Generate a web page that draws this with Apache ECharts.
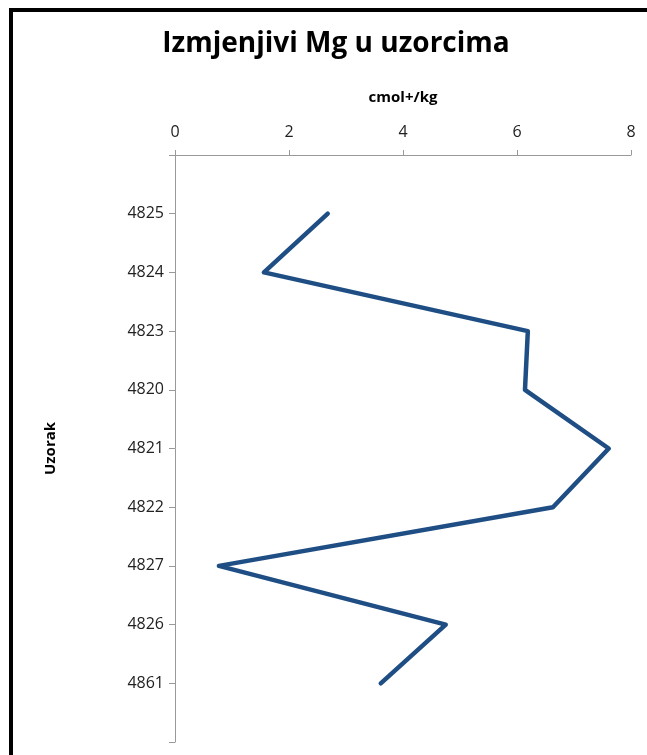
<!DOCTYPE html>
<html>
<head>
<meta charset="utf-8">
<script src="https://cdn.jsdelivr.net/npm/echarts@6/dist/echarts.min.js"></script>
<style>
html,body{margin:0;padding:0;background:#fff;overflow:hidden;}
#chart{width:647px;height:755px;}
</style>
</head>
<body>
<div id="chart"></div>
<script>
var titleText = 'Izmjenjivi Mg u uzorcima';
var xAxisName = 'cmol+/kg';
var yAxisName = 'Uzorak';
var samples = ['4825', '4824', '4823', '4820', '4821', '4822', '4827', '4826', '4861'];
var mgValues = [2.68, 1.56, 6.19, 6.14, 7.61, 6.63, 0.77, 4.75, 3.61];
var xTicks = [0, 2, 4, 6, 8];

// padded categories: empty slot at top and bottom of the axis
var cats = [''].concat(samples, ['']);
var seriesData = [null].concat(mgValues, [null]);

var chart = echarts.init(document.getElementById('chart'), null, {renderer: 'canvas'});
var font = 'Open Sans';
chart.setOption({
  animation: false,
  backgroundColor: '#fff',
  title: {
    text: titleText,
    left: 331, top: 25, textAlign: 'center',
    textStyle: {fontFamily: font, fontWeight: 'bold', fontSize: 28, color: '#000'}
  },
  graphic: [
    {type: 'rect', silent: true, shape: {x: 9, y: 8, width: 4, height: 747}, style: {fill: '#000'}},
    {type: 'rect', silent: true, shape: {x: 9, y: 8, width: 638, height: 4}, style: {fill: '#000'}}
  ],
  grid: {left: 175, right: 16, top: 155, bottom: 13, containLabel: false},
  xAxis: {
    type: 'value', position: 'top',
    min: xTicks[0], max: xTicks[xTicks.length - 1], interval: 2,
    name: xAxisName, nameLocation: 'middle', nameGap: 50,
    nameTextStyle: {fontFamily: font, fontWeight: 'bold', fontSize: 15, color: '#000'},
    axisLine: {show: true, lineStyle: {color: '#999', width: 1}},
    axisTick: {show: true, length: 5, lineStyle: {color: '#999'}},
    axisLabel: {fontFamily: font, fontSize: 16, color: '#222', margin: 15},
    splitLine: {show: false}
  },
  yAxis: {
    type: 'category', inverse: true, boundaryGap: false,
    data: cats,
    name: yAxisName, nameLocation: 'middle', nameGap: 117, nameRotate: 90,
    nameTextStyle: {fontFamily: font, fontWeight: 'bold', fontSize: 15, color: '#000'},
    axisLine: {show: true, onZero: false, lineStyle: {color: '#999', width: 1}},
    axisTick: {show: true, length: 6, alignWithLabel: true, interval: 0, lineStyle: {color: '#999'}},
    axisLabel: {fontFamily: font, fontSize: 16, color: '#222', margin: 11, interval: 0},
    splitLine: {show: false}
  },
  series: [{
    type: 'line',
    data: seriesData,
    showSymbol: false,
    symbol: 'none',
    connectNulls: false,
    lineStyle: {color: '#1f4e85', width: 4.5, cap: 'round', join: 'round'}
  }]
});
</script>
</body>
</html>
